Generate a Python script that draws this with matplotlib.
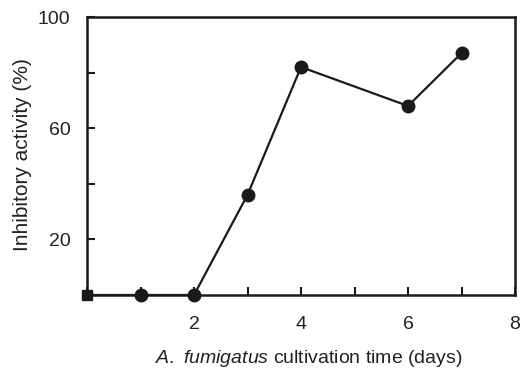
import matplotlib
matplotlib.use('Agg')
import matplotlib.pyplot as plt
from matplotlib.ticker import MultipleLocator

plt.rcParams['font.family'] = ['Liberation Sans', 'DejaVu Sans']
plt.rcParams['mathtext.fontset'] = 'custom'
plt.rcParams['mathtext.rm'] = 'Liberation Sans'
plt.rcParams['mathtext.it'] = 'Liberation Sans:italic'

# cultivation time (days) vs inhibitory activity (%)
days = [0, 1, 2, 3, 4, 6, 7]
activity = [0, 0, 0, 36, 82, 68, 87]

ink = '#1a1a1a'
txt = '#222222'

fig = plt.figure(figsize=(5.22, 3.70), dpi=100)
ax = fig.add_axes([87/522, 75/370, (515-87)/522, (295-17)/370])

ax.plot(days, activity, color=ink, lw=1.6, zorder=3)
ax.plot(days[1:], activity[1:], 'o', color=ink, ms=9, zorder=4, clip_on=False)
# first point sits on the corner of the frame
ax.plot(days[:1], activity[:1], 's', color=ink, ms=7, zorder=4, clip_on=False)

ax.set_xlim(0, 8)
ax.set_ylim(0, 100)
ax.set_xticks([2, 4, 6, 8])
ax.xaxis.set_minor_locator(MultipleLocator(1))
ax.set_yticks([20, 60, 100])
ax.set_yticks([40, 80], minor=True)

for s in ax.spines.values():
    s.set_linewidth(1.8)
    s.set_color(ink)

ax.tick_params(which='both', direction='in', length=6, width=1.5, color=ink,
               labelsize=14, labelcolor=txt)
ax.tick_params(axis='x', which='major', pad=15)
ax.tick_params(axis='y', which='major', pad=12)

ax.set_xlabel(r'$\it{A.}$ $\it{fumigatus}$ cultivation time (days)', fontsize=14, color=txt)
ax.set_ylabel('Inhibitory activity (%)', fontsize=15, color=txt)
ax.xaxis.set_label_coords(0.519, -0.23)
ax.xaxis.label.set_va('center')
ax.yaxis.set_label_coords(-0.15, 0.505)
ax.yaxis.label.set_va('center')

fig.savefig('out.png', dpi=100)
